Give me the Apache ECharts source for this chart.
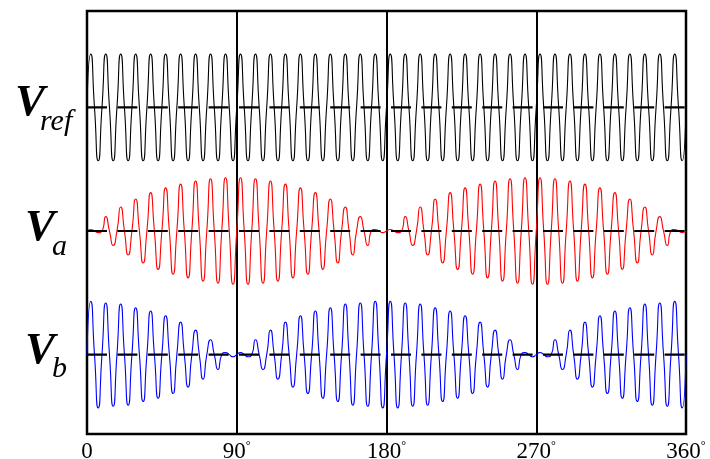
<!DOCTYPE html>
<html>
<head>
<meta charset="utf-8">
<script src="https://cdn.jsdelivr.net/npm/echarts@6/dist/echarts.min.js"></script>
<style>
  html, body { margin: 0; padding: 0; background: #fff; }
  #chart { width: 710px; height: 459px; }
</style>
</head>
<body>
<div id="chart"></div>
<script>
// carrier cycles: 40 over 0..360 deg, one amplitude (peak) per cycle
const degPerCycle = 9;
const xTicks = [0, 90, 180, 270, 360];

const vrefAmp = [
  1, 1, 1, 1, 1, 1, 1, 1, 1, 1,
  1, 1, 1, 1, 1, 1, 1, 1, 1, 1,
  1, 1, 1, 1, 1, 1, 1, 1, 1, 1,
  1, 1, 1, 1, 1, 1, 1, 1, 1, 1
];
const vaAmp = [
  0.03, 0.27, 0.45, 0.60, 0.72, 0.81, 0.88, 0.94, 0.98, 1.00,
  1.00, 0.98, 0.94, 0.88, 0.81, 0.72, 0.60, 0.45, 0.27, 0.03,
  0.03, 0.27, 0.45, 0.60, 0.72, 0.81, 0.88, 0.94, 0.98, 1.00,
  1.00, 0.98, 0.94, 0.88, 0.81, 0.72, 0.60, 0.45, 0.27, 0.03
];
const vbAmp = [
  1.00, 0.97, 0.95, 0.88, 0.82, 0.73, 0.61, 0.46, 0.28, 0.04,
  0.04, 0.28, 0.46, 0.61, 0.73, 0.82, 0.88, 0.95, 0.97, 1.00,
  1.00, 0.97, 0.95, 0.88, 0.82, 0.73, 0.61, 0.46, 0.28, 0.04,
  0.04, 0.28, 0.46, 0.61, 0.73, 0.82, 0.88, 0.95, 0.97, 1.00
];

const rows = [
  { sub: 'ref', amps: vrefAmp, color: '#000000', offset: 2.32 },
  { sub: 'a', amps: vaAmp, color: '#ff0000', offset: 0 },
  { sub: 'b', amps: vbAmp, color: '#0000ff', offset: -2.32 }
];

// zero crossing, peak, zero crossing, trough for each cycle
function wave(amps, offset) {
  const pts = [];
  amps.forEach((a, k) => {
    const x0 = k * degPerCycle;
    const q = degPerCycle / 4;
    pts.push([x0, offset], [x0 + q, offset + a], [x0 + 2 * q, offset], [x0 + 3 * q, offset - a]);
  });
  pts.push([amps.length * degPerCycle, offset]);
  return pts;
}

const series = [];
rows.forEach(r => {
  series.push({
    type: 'line',
    data: wave(r.amps, r.offset),
    smooth: 0.7,
    showSymbol: false,
    lineStyle: { color: r.color, width: 1.1 },
    z: 2
  });
});
rows.forEach(r => {
  series.push({
    type: 'line',
    data: [[0, r.offset], [360, r.offset]],
    showSymbol: false,
    lineStyle: { color: '#000', width: 2.2, type: [20, 10.4] },
    z: 5
  });
});

const serif = '"Liberation Serif", "DejaVu Serif", serif';
const labelPos = [
  { vx: 15, vy: 103, sx: 40, sy: 123 },
  { vx: 25, vy: 228, sx: 52, sy: 248 },
  { vx: 25, vy: 351, sx: 52, sy: 370 }
];
const graphic = [];
rows.forEach((r, i) => {
  const p = labelPos[i];
  graphic.push({
    type: 'text', left: p.vx, top: p.vy - 22,
    style: { text: 'V', font: 'italic bold 45px ' + serif, fill: '#000' }
  });
  graphic.push({
    type: 'text', left: p.sx, top: p.sy - 16,
    style: { text: r.sub, font: 'italic 30px ' + serif, fill: '#000' }
  });
});

const chart = echarts.init(document.getElementById('chart'));
chart.setOption({
  animation: false,
  backgroundColor: '#fff',
  grid: {
    left: 87, right: 24, top: 11, bottom: 25,
    outerBoundsMode: 'none',
    show: true, borderColor: '#000', borderWidth: 2.5, backgroundColor: 'transparent'
  },
  xAxis: {
    type: 'value', min: 0, max: 360, interval: 90,
    axisLine: { show: false },
    axisTick: { show: false },
    splitLine: { show: true, lineStyle: { color: '#000', width: 2 } },
    axisLabel: {
      margin: 6,
      color: '#000',
      fontFamily: serif,
      fontSize: 23,
      showMinLabel: true,
      showMaxLabel: true,
      formatter: v => (xTicks.indexOf(v) <= 0 ? String(v) : '{n|' + v + '}{d|°}'),
      rich: {
        n: { fontFamily: serif, fontSize: 23, color: '#000' },
        d: { fontFamily: serif, fontSize: 12, color: '#000', verticalAlign: 'top' }
      }
    }
  },
  yAxis: {
    type: 'value', min: -3.81, max: 4.13,
    show: false,
    splitLine: { show: false }
  },
  graphic: graphic,
  series: series
});
</script>
</body>
</html>
